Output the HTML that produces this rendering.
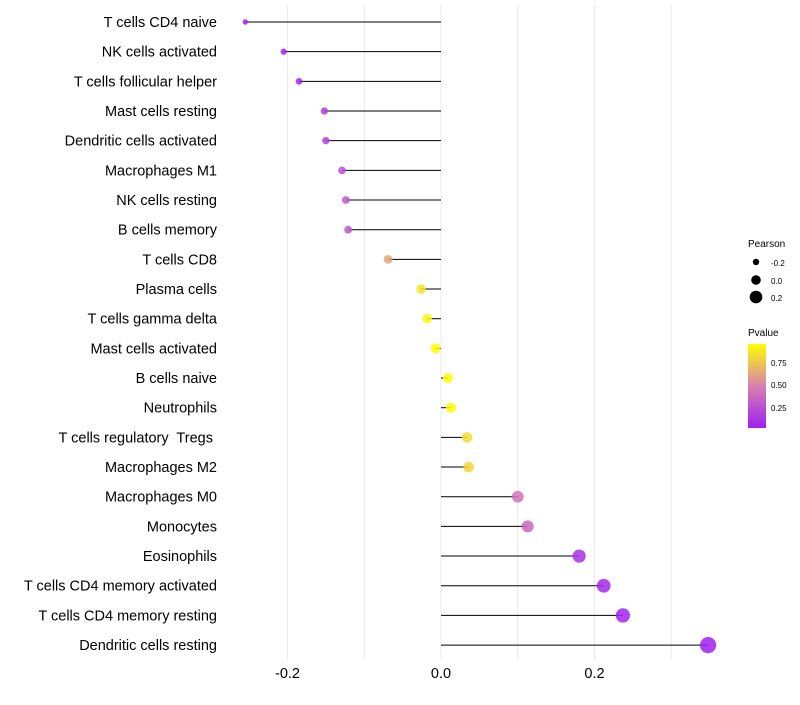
<!DOCTYPE html>
<html><head><meta charset="utf-8"><style>
body{margin:0;background:#fff;font-family:"Liberation Sans",sans-serif}
svg text{font-family:"Liberation Sans",sans-serif;white-space:pre}
</style></head><body>
<svg id="chart" width="800" height="700">
<defs><linearGradient id="pg" x1="0" y1="1" x2="0" y2="0">
<stop offset="0" stop-color="#a020f0"/><stop offset="0.5" stop-color="#d880b0"/><stop offset="1" stop-color="#ffff00"/></linearGradient></defs>
<g id="grid"></g><g id="marks"></g><g id="ylabels"></g><g id="xlabels"></g>
<g>
<text x="748" y="247" font-size="10">Pearson</text>
<circle cx="756" cy="262" r="3.2" fill="#000"/><text x="771" y="266" font-size="8">-0.2</text>
<circle cx="756" cy="280" r="4.8" fill="#000"/><text x="771" y="284" font-size="8">0.0</text>
<circle cx="756" cy="297" r="6.3" fill="#000"/><text x="771" y="301" font-size="8">0.2</text>
<text x="748" y="336" font-size="10">Pvalue</text>
<rect x="748" y="344" width="18" height="84" fill="url(#pg)"/>
<text x="771" y="366" font-size="8">0.75</text>
<text x="771" y="388" font-size="8">0.50</text>
<text x="771" y="411" font-size="8">0.25</text>
</g>
</svg>
<script>
const categories=["T cells CD4 naive","NK cells activated","T cells follicular helper","Mast cells resting","Dendritic cells activated","Macrophages M1","NK cells resting","B cells memory","T cells CD8","Plasma cells","T cells gamma delta","Mast cells activated","B cells naive","Neutrophils","T cells regulatory  Tregs ","Macrophages M2","Macrophages M0","Monocytes","Eosinophils","T cells CD4 memory activated","T cells CD4 memory resting","Dendritic cells resting"];
const pearson=[-0.255,-0.205,-0.185,-0.152,-0.150,-0.129,-0.124,-0.121,-0.069,-0.026,-0.018,-0.007,0.009,0.013,0.034,0.036,0.100,0.113,0.180,0.212,0.237,0.348];
const pvalue=[0.01,0.03,0.04,0.15,0.15,0.25,0.27,0.28,0.62,0.85,0.92,0.96,0.95,0.94,0.82,0.8,0.42,0.36,0.1,0.06,0.04,0.01];
const xTicks=[-0.2,0.0,0.2];
const xTickLabels=["-0.2","0.0","0.2"];
const ns="http://www.w3.org/2000/svg";
const x=v=>441+v*767.5;
const y=i=>22+i*29.67;
const pmin=0.017,pmax=0.95;
function lerp(a,b,t){return a.map((c,i)=>Math.round(c+(b[i]-c)*t));}
function col(p){let t=Math.max(0,Math.min(1,(p-pmin)/(pmax-pmin)));const P=[160,32,240],M=[216,128,176],Y=[255,255,0];
const c=t<0.5?lerp(P,M,t*2):lerp(M,Y,(t-0.5)*2);return `rgb(${c.join(",")})`;}
function mk(tag,attrs,parent){const e=document.createElementNS(ns,tag);for(const k in attrs)e.setAttribute(k,attrs[k]);parent.appendChild(e);return e;}
const grid=document.getElementById('grid');
[-0.2,-0.1,0,0.1,0.2,0.3].forEach(v=>{const l=mk('line',{x1:x(v),x2:x(v),y1:5,y2:660,stroke:'#ebebeb','stroke-width':1},grid);

});
const marks=document.getElementById('marks'),yl=document.getElementById('ylabels'),xl=document.getElementById('xlabels');
categories.forEach((c,i)=>{
const l=mk('line',{x1:x(0),x2:x(pearson[i]),y1:y(i),y2:y(i),stroke:'#000','stroke-width':1},marks);


const r=Math.max(1.8,5+9*pearson[i]);
const d=mk('circle',{cx:x(pearson[i]),cy:y(i),r:r,fill:col(pvalue[i]),'fill-opacity':0.85},marks);


const t=mk('text',{x:217,y:y(i)+5,'text-anchor':'end','font-size':14.5,fill:'#000'},yl);
t.textContent=c;


});
xTicks.forEach((v,i)=>{const t=mk('text',{x:x(v),y:678,'text-anchor':'middle','font-size':14.5,fill:'#000'},xl);
t.textContent=xTickLabels[i];

});
</script>
</body></html>
